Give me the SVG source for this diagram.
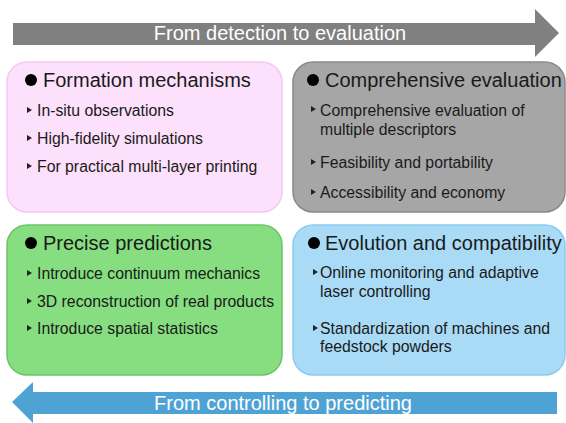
<svg xmlns="http://www.w3.org/2000/svg" width="566" height="423" viewBox="0 0 566 423">
<style>
.title{font-family:"Liberation Sans",Arial,sans-serif;font-size:20px;fill:#1a1a1a}
.item{font-family:"Liberation Sans",Arial,sans-serif;font-size:15.8px;fill:#1a1a1a}
.arr{font-family:"Liberation Sans",Arial,sans-serif;font-size:20px;fill:#ffffff;text-anchor:middle}
.dot{fill:#000}
.tri{fill:#222}
</style>
<defs>
<path id="tri" d="M0,-3 L5,0 L0,3 Z"/>
</defs>
<rect width="566" height="423" fill="#ffffff"/>
<g id="connectors">
<g id="arrow-top">
<path d="M13,23 H535 V9 L559,33 L535,57 V45 H13 Z" fill="#808080"/>
<text class="arr" x="280" y="40">From detection to evaluation</text>
</g>
<g id="arrow-bottom">
<path d="M557,392 H33 V382 L12,402 L33,423 V414 H557 Z" fill="#4fa3d4"/>
<text class="arr" x="283" y="410">From controlling to predicting</text>
</g>
</g>
<g id="formation">
<rect x="7" y="62" width="275" height="150" rx="20" fill="#fde0fb" stroke="#f3c9ef" stroke-width="1.5"/>
<circle class="dot" cx="31" cy="80" r="6"/>
<text class="title" x="43" y="87">Formation mechanisms</text>
<use href="#tri" class="tri" x="27" y="110"/>
<text class="item" x="37" y="116">In-situ observations</text>
<use href="#tri" class="tri" x="27" y="138"/>
<text class="item" x="37" y="144">High-fidelity simulations</text>
<use href="#tri" class="tri" x="27" y="166"/>
<text class="item" x="37" y="172">For practical multi-layer printing</text>
</g>
<g id="evaluation">
<rect x="293" y="62" width="272" height="150" rx="20" fill="#a6a6a6" stroke="#8a8a8a" stroke-width="1.5"/>
<circle class="dot" cx="313" cy="80" r="6"/>
<text class="title" x="325" y="87">Comprehensive evaluation</text>
<use href="#tri" class="tri" x="311" y="109"/>
<text class="item" x="320" y="116">Comprehensive evaluation of</text>
<text class="item" x="320" y="135">multiple descriptors</text>
<use href="#tri" class="tri" x="311" y="162"/>
<text class="item" x="320" y="168">Feasibility and portability</text>
<use href="#tri" class="tri" x="311" y="192"/>
<text class="item" x="320" y="198">Accessibility and economy</text>
</g>
<g id="predictions">
<rect x="7" y="225" width="275" height="150" rx="20" fill="#86de80" stroke="#6cc46a" stroke-width="1.5"/>
<circle class="dot" cx="31" cy="243" r="6"/>
<text class="title" x="43" y="250">Precise predictions</text>
<use href="#tri" class="tri" x="27" y="273"/>
<text class="item" x="37" y="279">Introduce continuum mechanics</text>
<use href="#tri" class="tri" x="27" y="301"/>
<text class="item" x="37" y="307">3D reconstruction of real products</text>
<use href="#tri" class="tri" x="27" y="328"/>
<text class="item" x="37" y="334">Introduce spatial statistics</text>
</g>
<g id="compatibility">
<rect x="293" y="225" width="272" height="150" rx="20" fill="#a9dbf7" stroke="#8ccbee" stroke-width="1.5"/>
<circle class="dot" cx="314" cy="243" r="6"/>
<text class="title" x="325" y="250">Evolution and compatibility</text>
<use href="#tri" class="tri" x="313" y="272"/>
<text class="item" x="320" y="278">Online monitoring and adaptive</text>
<text class="item" x="320" y="297">laser controlling</text>
<use href="#tri" class="tri" x="313" y="328"/>
<text class="item" x="320" y="334">Standardization of machines and</text>
<text class="item" x="320" y="352">feedstock powders</text>
</g>
</svg>
